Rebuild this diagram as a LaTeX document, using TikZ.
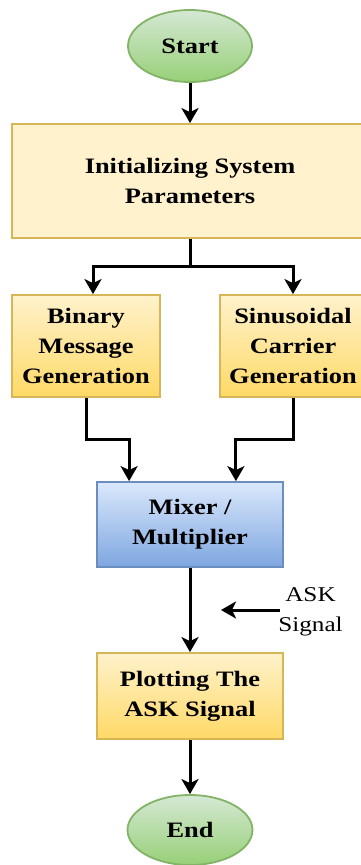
\documentclass[tikz,border=0pt]{standalone}
\usepackage{fontspec}
\setmainfont{Liberation Serif}[FakeStretch=1.2]
\usepackage{xcolor}
\usetikzlibrary{calc, shapes.geometric, arrows.meta}

\definecolor{termtop}{HTML}{D5E8D4}
\definecolor{termbot}{HTML}{97D077}
\definecolor{termline}{HTML}{82B366}
\definecolor{proctop}{HTML}{FFF2CC}
\definecolor{procbot}{HTML}{FFD966}
\definecolor{procline}{HTML}{D6B656}
\definecolor{mixtop}{HTML}{DAE8FC}
\definecolor{mixbot}{HTML}{7EA6E0}
\definecolor{mixline}{HTML}{6C8EBF}

\begin{document}
\begin{tikzpicture}[x=1pt, y=-1pt,
	every node/.style = {align=center, inner sep=0pt, font=\fontsize{22}{30}\selectfont\bfseries},
	term/.style = {ellipse, draw=termline, line width=1.8pt, top color=termtop, bottom color=termbot},
	proc/.style = {rectangle, draw=procline, line width=1.8pt, top color=proctop, bottom color=procbot},
	mixbox/.style = {rectangle, draw=mixline, line width=1.8pt, top color=mixtop, bottom color=mixbot},
	flow/.style = {line width=3pt, -{Stealth[length=15pt, width=17pt, inset=4pt]}}]
	\useasboundingbox (0,0) rectangle (361,865);

	\node [term, minimum width=124, minimum height=72] (start) at (190,46) {Start};
	\node [rectangle, draw=procline, line width=1.8pt, fill=proctop,
		minimum width=356, minimum height=114] (init) at (190,181) {Initializing System\\Parameters};

	\node [proc, minimum width=148, minimum height=102] (binary) at (86,346) {Binary\\Message\\Generation};
	\node [proc, minimum width=146, minimum height=102] (carrier) at (293,346) {Sinusoidal\\Carrier\\Generation};

	\node [mixbox, minimum width=186, minimum height=85] (mixer) at (190,524.5) {Mixer /\\Multiplier};
	\node [proc, minimum width=186, minimum height=86] (plot) at (190,696) {Plotting The\\ASK Signal};
	\node [term, minimum width=125, minimum height=70] (end) at (190,830) {End};

	\node [font=\fontsize{21}{30}\selectfont] (ask) at (310.5,612) {ASK\\Signal};
	\coordinate (asktip) at (221,610);

	\begin{scope}[flow]
		\draw (start) -- (init);
		\draw [-] (init.south) -- ++(0,28) coordinate (split);
		\draw (split) -| ($ (binary.north) + (7,0) $);
		\draw (split) -| (carrier.north);
		\draw (binary.south) -- ++(0,42) -| ($ (mixer.north west) + (33,0) $);
		\draw (carrier.south) -- ++(0,42) -| ($ (mixer.north east) + (-48,0) $);
		\draw (mixer) -- (plot);
		\draw (plot) -- (end);
		\draw ($ (ask.west) + (2,-2) $) -- (asktip);
	\end{scope}
\end{tikzpicture}
\end{document}
